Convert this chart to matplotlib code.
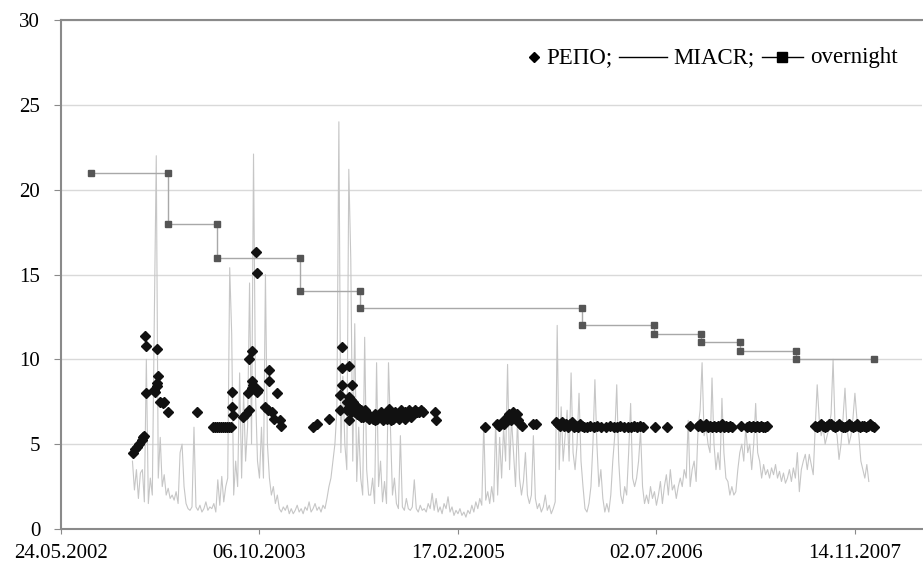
import matplotlib
matplotlib.use("Agg")
import matplotlib.pyplot as plt
from matplotlib.lines import Line2D
from matplotlib.offsetbox import AnchoredOffsetbox, DrawingArea, HPacker, TextArea
import pandas as pd

plt.rcParams['font.family'] = ['Liberation Serif', 'DejaVu Serif']

ORIGIN = pd.Timestamp('2002-05-24')

# x-axis ticks every 500 days
tick_labels = ['24.05.2002', '06.10.2003', '17.02.2005', '02.07.2006', '14.11.2007']

# overnight rate: step line (start / end of each level)
overnight_dates = ['2002-08-07', '2003-02-17', '2003-02-17', '2003-06-21', '2003-06-21',
                   '2004-01-15', '2004-01-15', '2004-06-15', '2004-06-15', '2005-12-26',
                   '2005-12-26', '2006-06-26', '2006-06-26', '2006-10-23', '2006-10-23',
                   '2007-01-29', '2007-01-29', '2007-06-19', '2007-06-19', '2008-01-01']
overnight_vals = [21, 21, 18, 18, 16, 16, 14, 14, 13, 13,
                  12, 12, 11.5, 11.5, 11, 11, 10.5, 10.5, 10, 10]

# MIACR, every 5 days from 20.11.2002
miacr_start = '2002-11-20'
miacr_step_days = 5
miacr_vals = [
    4.0, 2.3, 3.5, 1.8, 3.3, 3.5, 1.6, 10.0, 1.5, 3.0, 2.0, 12.3, 22.0, 3.0, 5.4, 2.5, 3.2, 2.0, 2.4, 1.8,
    2.0, 1.7, 2.2, 1.5, 4.5, 5.0, 2.5, 1.5, 1.2, 1.1, 1.3, 6.0, 1.3, 1.1, 1.4, 1.0, 1.2, 1.6, 1.1, 1.3,
    1.2, 1.5, 1.0, 2.9, 1.4, 3.1, 1.6, 2.5, 3.0, 15.4, 11.5, 2.0, 4.0, 2.5, 9.2, 3.0, 8.0, 4.0, 6.0, 14.5,
    5.0, 22.1, 8.0, 4.0, 3.0, 6.0, 3.0, 15.0, 5.0, 3.0, 2.0, 2.5, 1.5, 2.0, 1.2, 1.0, 1.3, 1.1, 1.4, 0.9,
    1.2, 0.9, 1.1, 1.4, 1.0, 1.2, 0.9, 1.3, 1.1, 1.6, 1.0, 1.2, 1.5, 1.1, 1.3, 1.0, 1.4, 1.2, 1.8, 2.5,
    3.0, 4.0, 5.0, 7.0, 24.0, 4.5, 9.0, 5.0, 3.5, 21.2, 15.9, 4.0, 12.1, 2.8, 6.0, 3.0, 2.0, 11.3, 3.5, 2.0,
    2.0, 3.0, 1.5, 9.8, 2.5, 4.0, 1.6, 2.8, 1.5, 9.8, 5.8, 2.0, 3.0, 1.5, 1.2, 5.5, 1.3, 1.1, 1.8, 1.2,
    1.1, 1.3, 2.9, 1.2, 1.0, 1.4, 1.1, 1.2, 1.0, 1.5, 1.2, 2.1, 1.1, 1.8, 1.0, 1.3, 0.9, 1.5, 1.2, 1.9,
    1.0, 1.3, 0.8, 1.1, 0.9, 1.2, 0.8, 1.0, 0.7, 1.1, 0.9, 1.4, 1.0, 1.6, 1.2, 1.8, 1.4, 6.2, 1.7, 2.2,
    1.5, 2.5, 1.6, 6.4, 2.0, 5.4, 3.0, 6.0, 4.0, 9.7, 3.5, 6.5, 4.5, 2.5, 6.5, 3.0, 2.0, 2.8, 4.5, 2.0,
    1.5, 2.0, 5.5, 1.8, 1.2, 1.5, 1.0, 1.3, 2.0, 1.1, 1.4, 0.9, 1.2, 1.6, 12.0, 3.5, 7.2, 4.0, 5.5, 7.0,
    4.0, 9.2, 4.5, 3.5, 5.0, 8.0, 4.0, 2.5, 1.2, 1.0, 1.5, 2.5, 5.0, 8.8, 5.0, 2.5, 3.5, 1.8, 1.0, 1.5,
    1.0, 2.0, 4.0, 5.5, 8.5, 4.0, 2.0, 1.5, 2.5, 2.0, 4.5, 7.4, 3.0, 2.5, 3.0, 4.0, 5.8, 2.5, 1.5, 2.0,
    1.5, 2.5, 1.8, 2.2, 1.4, 2.0, 2.8, 1.5, 2.5, 3.2, 2.0, 3.5, 2.3, 2.6, 1.8, 2.5, 3.0, 2.5, 3.5, 3.0,
    6.4, 2.5, 3.5, 4.0, 2.8, 6.0, 7.0, 9.8, 5.5, 6.0, 5.0, 4.5, 8.9, 5.0, 3.5, 4.5, 3.5, 7.7, 4.5, 3.0,
    2.8, 2.0, 2.5, 2.0, 2.2, 3.5, 4.5, 5.0, 4.0, 6.0, 4.5, 5.0, 3.5, 5.0, 7.4, 4.5, 4.0, 3.0, 3.8, 3.2,
    3.5, 3.0, 3.6, 3.2, 3.8, 3.0, 3.4, 2.8, 3.3, 2.7, 3.0, 3.5, 2.8, 3.6, 3.0, 4.5, 2.2, 3.5, 4.0, 4.4,
    3.5, 4.4, 3.8, 3.2, 6.0, 8.5, 6.5, 5.5, 6.0, 5.0, 5.5, 6.0, 6.8, 10.0, 6.0, 5.5, 4.1, 5.0, 6.5, 8.3,
    6.0, 5.0, 5.5, 6.5, 8.0, 6.5, 5.5, 4.0, 3.5, 3.0, 3.8, 2.8,
]

# REPO auctions: days after 24.05.2002 and rate
repo_day = [
    181, 186, 192, 197, 203, 207, 209,
    212, 214, 214, 234, 237, 241, 241, 242, 245, 249, 256, 259, 270,
    342,
    383, 388, 393, 398, 403, 408, 413, 418, 423, 428,
    430, 430, 434, 459, 466, 472, 474, 474, 480, 480, 482, 484, 489, 490, 493, 494, 497,
    514, 522, 524, 524, 531, 537, 543, 552, 553,
    636, 644, 676, 703, 703, 707, 707, 707, 726, 726, 732,
    720, 720, 725, 725, 730, 730, 736, 736, 736, 741, 741, 746, 746, 751, 751,
    756, 756, 761, 761, 766, 766, 771, 771, 776, 776,
    781, 786, 791, 791, 796, 801, 806, 811, 811, 816, 821, 826, 831, 831, 836, 841,
    846, 851, 851, 856, 861, 867, 867, 872, 877, 882, 882, 887, 892, 897, 902, 907, 912,
    942, 945,
    1068, 1098, 1103, 1110, 1116, 1123, 1129, 1134, 1139, 1144, 1148, 1151, 1156, 1161, 1190, 1197,
    1247, 1252, 1257, 1262, 1267, 1272, 1277, 1282, 1287, 1292, 1297, 1302, 1307, 1312, 1317,
    1325, 1333, 1343, 1350, 1360, 1373, 1383, 1393, 1401, 1408, 1418, 1428, 1436, 1443, 1451,
    1459, 1466, 1496, 1527,
    1584, 1605, 1610, 1615, 1620, 1625, 1630, 1635, 1640, 1645, 1650, 1655, 1660, 1665, 1670,
    1675, 1680, 1685, 1690,
    1713, 1728, 1733, 1738, 1743, 1748, 1753, 1758, 1763, 1768, 1773, 1778,
    1899, 1904, 1909, 1914, 1919, 1924, 1929, 1934, 1939, 1944, 1949, 1954, 1959, 1964, 1969,
    1974, 1979, 1984, 1989, 1994, 1999, 2004, 2009, 2014, 2019, 2024, 2029, 2034, 2039, 2044, 2049,
]
repo_vals = [
    4.5, 4.7, 4.85, 5.0, 5.25, 5.4, 5.5,
    11.4, 10.8, 8.0, 8.2, 8.1, 8.4, 10.6, 8.6, 9.0, 7.5, 7.4, 7.5, 6.9,
    6.9,
    6.0, 6.0, 6.0, 6.0, 6.0, 6.0, 6.0, 6.0, 6.0, 6.0,
    8.1, 7.2, 6.7, 6.6, 6.8, 8.0, 7.0, 10.0, 10.5, 8.3, 8.7, 8.5, 8.3, 16.3, 8.1, 15.1, 8.2,
    7.2, 7.0, 9.4, 8.7, 6.9, 6.5, 8.0, 6.4, 6.1,
    6.0, 6.2, 6.5, 7.9, 7.0, 10.75, 9.5, 8.5, 9.6, 6.4, 8.5,
    7.5, 7.0, 7.8, 7.2, 7.6, 6.9, 7.5, 7.4, 7.0, 7.3, 6.9, 7.2, 6.8, 7.1, 6.7,
    7.0, 6.6, 6.9, 6.6, 7.0, 6.7, 6.8, 6.6, 6.7, 6.5,
    6.6, 6.5, 6.8, 6.4, 6.5, 6.6, 6.9, 6.5, 6.4, 6.7, 6.5, 7.1, 6.7, 6.4, 6.5, 6.9,
    6.6, 6.8, 6.5, 7.0, 6.7, 6.9, 6.5, 6.8, 7.0, 6.9, 6.6, 6.8, 7.0, 6.9, 6.9, 7.0, 6.9,
    6.9, 6.4,
    6.0, 6.2, 6.1, 6.3, 6.2, 6.6, 6.8, 6.4, 6.9, 6.5, 6.8, 6.4, 6.2, 6.1, 6.2, 6.2,
    6.3, 6.2, 6.1, 6.3, 6.1, 6.2, 6.0, 6.2, 6.3, 6.0, 6.1, 6.0, 6.2, 6.1, 6.0,
    6.0, 6.1, 6.0, 6.1, 6.0, 6.0, 6.1, 6.0, 6.0, 6.1, 6.0, 6.0, 6.0, 6.1, 6.0,
    6.1, 6.0, 6.0, 6.0,
    6.1, 6.1, 6.2, 6.0, 6.1, 6.2, 6.0, 6.1, 6.0, 6.1, 6.0, 6.1, 6.0, 6.2, 6.0,
    6.1, 6.0, 6.1, 6.0,
    6.1, 6.0, 6.1, 6.0, 6.1, 6.0, 6.1, 6.0, 6.1, 6.0, 6.0, 6.1,
    6.1, 6.0, 6.1, 6.2, 6.1, 6.0, 6.1, 6.2, 6.2, 6.1, 6.0, 6.1, 6.2, 6.1, 6.0,
    6.0, 6.1, 6.2, 6.1, 6.0, 6.1, 6.2, 6.1, 6.0, 6.1, 6.1, 6.0, 6.1, 6.2, 6.1, 6.0,
]

tick_dates = pd.to_datetime(tick_labels, format='%d.%m.%Y')
ov_dates = pd.to_datetime(overnight_dates)
miacr_dates = pd.date_range(miacr_start, periods=len(miacr_vals), freq=f'{miacr_step_days}D')
repo_dates = ORIGIN + pd.to_timedelta(repo_day, unit='D')

fig = plt.figure(figsize=(9.23, 5.67), dpi=100)
ax = fig.add_axes([61 / 923, 38 / 567, 861 / 923, 509 / 567])

ax.plot(miacr_dates, miacr_vals, color='#c6c6c6', lw=0.8, zorder=2)
ax.plot(ov_dates, overnight_vals, color='#a8a8a8', lw=1.0, marker='s', ms=4,
        mfc='#555555', mec='#555555', zorder=3)
ax.plot(repo_dates, repo_vals, linestyle='none', marker='D', ms=5.3, color='#111111', zorder=4)

ax.set_ylim(0, 30)
ax.set_yticks(range(0, 31, 5))
ax.set_xlim(ORIGIN, pd.Timestamp('2008-05-01'))
ax.set_xticks(tick_dates)
ax.set_xticklabels(tick_labels)
ax.grid(axis='y', color='#d9d9d9', lw=1)
ax.set_axisbelow(True)

for side in ['left', 'bottom', 'top']:
    ax.spines[side].set_color('#8a8a8a')
    ax.spines[side].set_linewidth(1.5)
ax.spines['right'].set_visible(False)
ax.tick_params(axis='y', labelsize=15, length=5, color='#8a8a8a', pad=10)
ax.tick_params(axis='x', labelsize=15, length=3.5, color='#8a8a8a', pad=7)

# legend in one line: diamond PEПO; line MIACR; line+square overnight
def key(width, marker=None, ms=6, line=True):
    da = DrawingArea(width, 10, 0, 0)
    if line:
        da.add_artist(Line2D([0, width], [5, 5], color='k', lw=1))
    if marker:
        da.add_artist(Line2D([width / 2], [5], marker=marker, ms=ms, color='k', linestyle='none'))
    return da

txt = dict(fontsize=16.5, color='black')
items = [key(7, marker='D', ms=5, line=False), TextArea('РЕПО;', textprops=txt),
         key(34), TextArea('MIACR;', textprops=txt),
         key(30, marker='s', ms=7), TextArea('overnight', textprops=txt)]
box = HPacker(children=items, align='center', pad=0, sep=5)
anchored = AnchoredOffsetbox(loc='center right', child=box, pad=0, borderpad=0, frameon=False,
                             bbox_to_anchor=(0.972, 0.927), bbox_transform=ax.transAxes)
ax.add_artist(anchored)

fig.savefig('out.png', dpi=100)
